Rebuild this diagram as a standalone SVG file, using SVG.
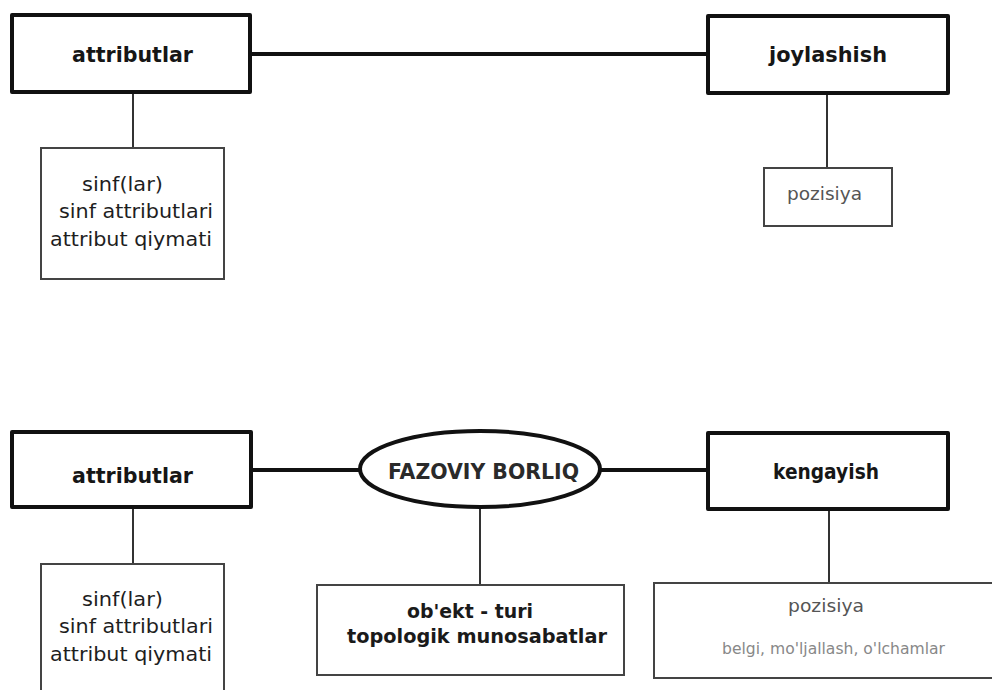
<svg xmlns="http://www.w3.org/2000/svg" width="992" height="690" viewBox="0 0 992 690">
<style>
.thick{fill:#fff;stroke:#111;stroke-width:4;stroke-linejoin:round}
.thin{fill:#fff;stroke:#444;stroke-width:2}
.cl{stroke:#111;stroke-width:4;fill:none}
.cs{stroke:#333;stroke-width:2;fill:none}
text{font-family:"DejaVu Sans","Liberation Sans",sans-serif}
.hd{font-weight:bold;font-size:21px;fill:#161616}
.rg{font-size:20px;fill:#1e1e1e}
.el{font-weight:bold;font-size:22px;fill:#2a2a2a}
.ob{font-weight:bold;font-size:19px;fill:#1a1a1a}
.pz{font-size:17px;fill:#555}
.bl{font-size:15px;fill:#888}
</style>
<rect width="992" height="690" fill="#fff"/>
<g id="connectors">
<line class="cl" x1="250" y1="54" x2="708" y2="54"/>
<line class="cs" x1="133" y1="92" x2="133" y2="148"/>
<line class="cs" x1="827" y1="93" x2="827" y2="168"/>
<line class="cl" x1="251" y1="470" x2="361" y2="470"/>
<line class="cl" x1="599" y1="470" x2="708" y2="470"/>
<line class="cs" x1="133" y1="507" x2="133" y2="564"/>
<line class="cs" x1="480" y1="507" x2="480" y2="585"/>
<line class="cs" x1="829" y1="509" x2="829" y2="583"/>
</g>
<g id="top-attributlar">
<rect class="thick" x="12" y="15" width="238" height="77"/>
<text class="hd" x="72" y="62" textLength="121" lengthAdjust="spacingAndGlyphs">attributlar</text>
</g>
<g id="top-joylashish">
<rect class="thick" x="708" y="16" width="240" height="77"/>
<text class="hd" x="769" y="62" textLength="118" lengthAdjust="spacingAndGlyphs">joylashish</text>
</g>
<g id="top-attr-list">
<rect class="thin" x="41" y="148" width="183" height="131"/>
<text class="rg" x="82" y="191" textLength="81" lengthAdjust="spacingAndGlyphs">sinf(lar)</text>
<text class="rg" x="59" y="218" textLength="154" lengthAdjust="spacingAndGlyphs">sinf attributlari</text>
<text class="rg" x="50" y="246" textLength="162" lengthAdjust="spacingAndGlyphs">attribut qiymati</text>
</g>
<g id="top-pozisiya">
<rect class="thin" x="764" y="168" width="128" height="58"/>
<text class="pz" x="787" y="200" textLength="75" lengthAdjust="spacingAndGlyphs">pozisiya</text>
</g>
<g id="bottom-attributlar">
<rect class="thick" x="12" y="432" width="239" height="75"/>
<text class="hd" x="72" y="483" textLength="121" lengthAdjust="spacingAndGlyphs">attributlar</text>
</g>
<g id="fazoviy-borliq">
<ellipse class="thick" cx="480" cy="469" rx="120" ry="38"/>
<text class="el" x="388" y="479" textLength="191" lengthAdjust="spacingAndGlyphs">FAZOVIY BORLIQ</text>
</g>
<g id="kengayish">
<rect class="thick" x="708" y="433" width="240" height="76"/>
<text class="hd" x="773" y="479" textLength="106" lengthAdjust="spacingAndGlyphs">kengayish</text>
</g>
<g id="bottom-attr-list">
<rect class="thin" x="41" y="564" width="183" height="140"/>
<text class="rg" x="82" y="606" textLength="81" lengthAdjust="spacingAndGlyphs">sinf(lar)</text>
<text class="rg" x="59" y="633" textLength="154" lengthAdjust="spacingAndGlyphs">sinf attributlari</text>
<text class="rg" x="50" y="661" textLength="162" lengthAdjust="spacingAndGlyphs">attribut qiymati</text>
</g>
<g id="obekt-turi">
<rect class="thin" x="317" y="585" width="307" height="90"/>
<text class="ob" x="407" y="618" textLength="126" lengthAdjust="spacingAndGlyphs">ob'ekt - turi</text>
<text class="ob" x="347" y="643" textLength="260" lengthAdjust="spacingAndGlyphs">topologik munosabatlar</text>
</g>
<g id="bottom-pozisiya">
<rect class="thin" x="654" y="583" width="350" height="95"/>
<text class="pz" x="788" y="612" textLength="76" lengthAdjust="spacingAndGlyphs">pozisiya</text>
<text class="bl" x="722" y="654" textLength="223" lengthAdjust="spacingAndGlyphs">belgi, mo'ljallash, o'lchamlar</text>
</g>
</svg>
